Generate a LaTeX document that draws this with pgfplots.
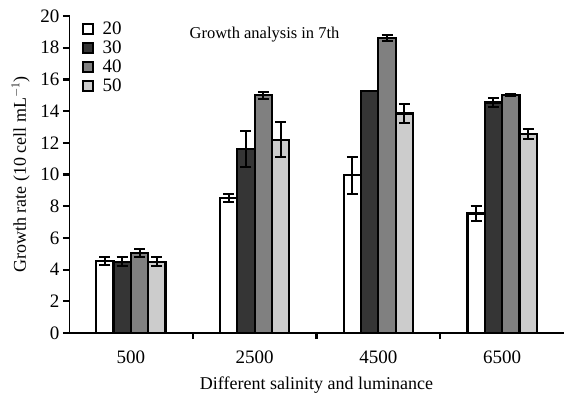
\documentclass[border=0pt]{standalone}
\usepackage{pgfplots}
\pgfplotsset{compat=1.18}
\usepackage{fontspec}
\setmainfont{Liberation Serif}
\definecolor{cA}{HTML}{FFFFFF}
\definecolor{cB}{HTML}{353535}
\definecolor{cC}{HTML}{808080}
\definecolor{cD}{HTML}{CCCCCC}
\begin{document}
\begin{tikzpicture}
\path[use as bounding box] (-69pt,-74pt) rectangle (495pt,333pt);
\begin{axis}[
  at={(0,0)}, anchor=south west,
  scale only axis, width=495pt, height=317pt,
  ymin=0, ymax=20, ytick={0,2,...,20},
  xmin=-0.5, xmax=3.5,
  axis line style={draw=none},
  xtick={0,1,2,3},
  xticklabels={500,2500,4500,6500},
  minor xtick={0.5,1.5,2.5},
  xtick pos=bottom, ytick pos=left,
  xtick align=outside, ytick align=outside,
  major tick length=6pt,
  minor tick length=6pt,
  tick style={line width=2.2pt, black},
  major x tick style={draw=none},
  /pgf/number format/assume math mode=true,
  ticklabel style={font=\fontsize{19}{20}\selectfont},
  xticklabel style={yshift=-8pt},
  xlabel={Different salinity and luminance},
  ylabel={Growth rate (10 cell mL$^{-1}$)},
  label style={font=\fontsize{18}{20}\selectfont},
  xlabel style={yshift=-7pt},
  ylabel style={yshift=4pt},
  ybar=0pt, bar width=17.3pt,
  enlarge x limits=false,
  legend style={draw=none, fill=none, at={(0.02,0.995)}, anchor=north west,
    font=\fontsize{19}{19}\selectfont, row sep=1pt,
    legend cell align=left,
    /tikz/every odd column/.append style={column sep=7pt}},
  legend image code/.code={\draw[#1, line width=1.6pt] (2pt,-5pt) rectangle (12pt,5pt);},
  every axis plot/.append style={draw=black, line width=2.2pt},
  error bars/y dir=both, error bars/y explicit,
  error bars/error bar style={line width=2pt, black},
  error bars/error mark options={rotate=90, mark size=5.5pt, line width=2pt, black},
]
\addplot[fill=cA] coordinates {(0,4.54) +- (0,0.27) (1,8.5) +- (0,0.25) (2,9.96) +- (0,1.17) (3,7.54) +- (0,0.45)};
\addplot[fill=cB] coordinates {(0,4.5) +- (0,0.27) (1,11.6) +- (0,1.15) (2,15.27) +- (0,0.0) (3,14.54) +- (0,0.26)};
\addplot[fill=cC] coordinates {(0,5.06) +- (0,0.25) (1,15.0) +- (0,0.22) (2,18.6) +- (0,0.2) (3,15.02) +- (0,0.08)};
\addplot[fill=cD] coordinates {(0,4.5) +- (0,0.27) (1,12.2) +- (0,1.1) (2,13.85) +- (0,0.6) (3,12.56) +- (0,0.3)};
\legend{20,30,40,50}
\draw[line width=2.2pt, line cap=rect] (rel axis cs:0,1) -- (rel axis cs:0,0) -- (rel axis cs:1,0);
\pgfplotsinvokeforeach{0,2,4,6,8,10,12,14,16,18,20}{
  \draw[line width=2.2pt] (axis cs:-0.5,#1) -- ++(-6pt,0pt);
}
\node[font=\fontsize{16.5}{18}\selectfont] at (axis cs:1.08,18.85) {Growth analysis in 7th};
\end{axis}
\end{tikzpicture}
\end{document}
